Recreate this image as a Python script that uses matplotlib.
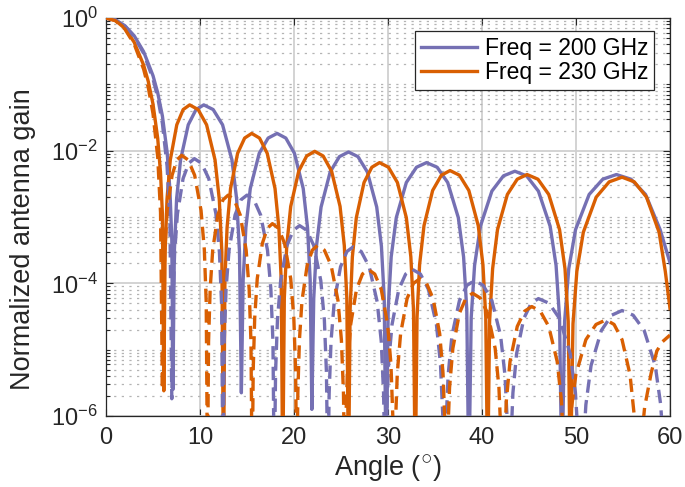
import numpy as np
import matplotlib
matplotlib.use("Agg")
import matplotlib.pyplot as plt
from matplotlib.ticker import LogLocator, NullFormatter, FixedLocator

plt.rcParams['font.family'] = ['Liberation Sans', 'DejaVu Sans']
plt.rcParams['mathtext.fontset'] = 'custom'
plt.rcParams['mathtext.rm'] = 'Liberation Sans'
plt.rcParams['mathtext.it'] = 'Liberation Sans:italic'
plt.rcParams['mathtext.default'] = 'regular'

# values: angle (deg) and log10 of normalized gain
# solid, 200 GHz
ang_200 = [0, 1, 2, 3, 4, 5, 5.5, 6, 6.5, 6.8, 7.0, 7.12,
           7.27, 7.51, 7.93, 8.75, 9.58, 10.4, 11.4, 12.4, 13.4, 13.9, 14.2, 14.4,
           14.59, 14.88, 15.35, 16.3, 17.25, 18.2, 19.13, 20.05, 20.98, 21.44, 21.72, 21.9,
           22.1, 22.39, 22.88, 23.85, 24.83, 25.8, 26.8, 27.8, 28.8, 29.3, 29.6, 29.8,
           30.02, 30.34, 30.88, 31.95, 33.03, 34.1, 35.23, 36.35, 37.48, 38.04, 38.38, 38.6,
           38.85, 39.21, 39.83, 41.05, 42.28, 43.5, 44.75, 46.0, 47.25, 47.88, 48.25, 48.5,
           48.79, 49.23, 49.95, 51.4, 52.85, 54.3, 55.85, 57.4, 58.95, 60.0]
lg_200 = [0, -0.028, -0.115, -0.268, -0.507, -0.869, -1.127, -1.477, -2.02, -2.59, -3.34, -5.6,
          -3.52, -2.73, -2.14, -1.61, -1.38, -1.31, -1.38, -1.61, -2.14, -2.73, -3.52, -5.65,
          -3.95, -3.16, -2.57, -2.04, -1.81, -1.74, -1.81, -2.04, -2.57, -3.16, -3.95, -5.9,
          -4.23, -3.44, -2.85, -2.32, -2.09, -2.02, -2.09, -2.32, -2.85, -3.44, -4.23, -7,
          -4.39, -3.60, -3.01, -2.48, -2.25, -2.18, -2.25, -2.48, -3.01, -3.60, -4.39, -7,
          -4.52, -3.73, -3.14, -2.61, -2.38, -2.31, -2.38, -2.61, -3.14, -3.73, -4.52, -7,
          -4.57, -3.78, -3.19, -2.66, -2.43, -2.36, -2.43, -2.66, -3.19, -3.69]

# solid, 230 GHz
ang_230 = [0, 1, 2, 3, 4, 4.5, 5, 5.5, 5.8, 6.0, 6.15,
           6.29, 6.49, 6.84, 7.53, 8.21, 8.9, 9.8, 10.7, 11.6, 12.05, 12.32, 12.5,
           12.65, 12.88, 13.25, 14.0, 14.75, 15.5, 16.33, 17.15, 17.98, 18.39, 18.64, 18.8,
           18.97, 19.23, 19.65, 20.5, 21.35, 22.2, 23.1, 24.0, 24.9, 25.35, 25.62, 25.8,
           25.97, 26.21, 26.63, 27.45, 28.28, 29.1, 30.05, 31.0, 31.95, 32.43, 32.71, 32.9,
           33.09, 33.36, 33.83, 34.75, 35.68, 36.6, 37.6, 38.6, 39.6, 40.1, 40.4, 40.6,
           40.81, 41.13, 41.65, 42.7, 43.75, 44.8, 45.95, 47.1, 48.25, 48.83, 49.17, 49.4,
           49.68, 50.09, 50.78, 52.15, 53.53, 54.9, 56.2, 57.5, 58.84, 59.5, 60.0]
lg_230 = [0, -0.038, -0.155, -0.366, -0.709, -0.958, -1.297, -1.813, -2.335, -2.95, -5.62,
          -3.52, -2.73, -2.14, -1.61, -1.38, -1.31, -1.38, -1.61, -2.14, -2.73, -3.52, -7,
          -3.95, -3.16, -2.57, -2.04, -1.81, -1.74, -1.81, -2.04, -2.57, -3.16, -3.95, -7,
          -4.22, -3.43, -2.84, -2.31, -2.08, -2.01, -2.08, -2.31, -2.84, -3.43, -4.22, -7,
          -4.39, -3.60, -3.01, -2.48, -2.25, -2.18, -2.25, -2.48, -3.01, -3.60, -4.39, -7,
          -4.51, -3.72, -3.13, -2.60, -2.37, -2.30, -2.37, -2.60, -3.13, -3.72, -4.51, -7,
          -4.57, -3.78, -3.19, -2.66, -2.43, -2.36, -2.43, -2.66, -3.19, -3.78, -4.57, -7,
          -4.61, -3.82, -3.23, -2.70, -2.47, -2.40, -2.47, -2.70, -3.23, -3.82, -4.38]

# dashed, 200 GHz
angd_200 = [0, 1, 2, 3, 4, 5, 5.5, 6, 6.5, 6.8, 7.0,
            7.12, 7.30, 7.60, 8.20, 8.80, 9.4, 10.16, 10.93, 11.69, 12.07, 12.30, 12.45,
            12.58, 12.77, 13.09, 13.73, 14.36, 15.0, 15.73, 16.45, 17.18, 17.54, 17.76, 17.9,
            18.04, 18.24, 18.58, 19.25, 19.93, 20.6, 21.35, 22.1, 22.85, 23.23, 23.45, 23.6,
            23.74, 23.94, 24.28, 24.95, 25.63, 26.3, 27.15, 28.0, 28.85, 29.28, 29.53, 29.7,
            29.85, 30.06, 30.43, 31.15, 31.88, 32.6, 33.45, 34.3, 35.15, 35.58, 35.83, 36.0,
            36.16, 36.4, 36.8, 37.6, 38.4, 39.2, 40.13, 41.05, 41.98, 42.44, 42.72, 42.9,
            43.06, 43.29, 43.68, 44.45, 45.23, 46.0, 47.13, 48.25, 49.38, 49.94, 50.28, 50.5,
            50.72, 51.05, 51.6, 52.7, 53.8, 54.9, 56.08, 57.25, 58.43, 59.01, 59.37, 59.6, 60.0]
lgd_200 = [0, -0.029, -0.120, -0.281, -0.532, -0.918, -1.197, -1.587, -2.235, -3.06, -5.74,
           -4.33, -3.54, -2.95, -2.42, -2.19, -2.12, -2.19, -2.42, -2.95, -3.54, -4.33, -7,
           -4.88, -4.09, -3.50, -2.97, -2.74, -2.67, -2.74, -2.97, -3.50, -4.09, -4.88, -7,
           -5.34, -4.55, -3.96, -3.43, -3.20, -3.13, -3.20, -3.43, -3.96, -4.55, -5.34, -7,
           -5.66, -4.87, -4.28, -3.75, -3.52, -3.45, -3.52, -3.75, -4.28, -4.87, -5.66, -7,
           -6.0, -5.21, -4.62, -4.09, -3.86, -3.79, -3.86, -4.09, -4.62, -5.21, -6.0, -7,
           -6.17, -5.38, -4.79, -4.26, -4.03, -3.96, -4.03, -4.26, -4.79, -5.38, -6.17, -7,
           -6.44, -5.65, -5.06, -4.53, -4.30, -4.23, -4.30, -4.53, -5.06, -5.65, -6.44, -7,
           -6.62, -5.83, -5.24, -4.71, -4.48, -4.41, -4.48, -4.71, -5.24, -5.83, -6.62, -7, -6.8]

# dashed, 230 GHz
angd_230 = [0, 1, 2, 3, 4, 4.5, 5, 5.5, 5.8, 6.0,
            6.10, 6.26, 6.51, 7.03, 7.54, 8.05, 8.74, 9.43, 10.11, 10.46, 10.66, 10.8,
            10.91, 11.08, 11.35, 11.9, 12.45, 13.0, 13.64, 14.28, 14.91, 15.23, 15.42, 15.55,
            15.66, 15.82, 16.09, 16.63, 17.16, 17.7, 18.35, 19.0, 19.65, 19.98, 20.17, 20.3,
            20.41, 20.58, 20.85, 21.4, 21.95, 22.5, 23.23, 23.95, 24.68, 25.04, 25.26, 25.4,
            25.53, 25.71, 26.03, 26.65, 27.28, 27.9, 28.59, 29.28, 29.96, 30.31, 30.51, 30.65,
            30.79, 30.99, 31.34, 32.03, 32.71, 33.4, 34.1, 34.8, 35.5, 35.85, 36.06, 36.2,
            36.34, 36.55, 36.9, 37.6, 38.3, 39.0, 39.8, 40.6, 41.4, 41.8, 42.04, 42.2,
            42.36, 42.59, 42.98, 43.75, 44.53, 45.3, 46.2, 47.1, 48.0, 48.45, 48.72, 48.9,
            49.12, 49.44, 49.98, 51.05, 52.13, 53.2, 54.05, 54.9, 55.75, 56.18, 56.43, 56.6,
            57.0, 57.3, 58.0, 58.6, 59.2, 60.0]
lgd_230 = [0, -0.040, -0.165, -0.394, -0.770, -1.049, -1.441, -2.094, -2.93, -5.6,
           -4.28, -3.49, -2.90, -2.37, -2.14, -2.07, -2.14, -2.37, -2.90, -3.49, -4.28, -7,
           -4.88, -4.09, -3.50, -2.97, -2.74, -2.67, -2.74, -2.97, -3.50, -4.09, -4.88, -7,
           -5.31, -4.52, -3.93, -3.40, -3.17, -3.10, -3.17, -3.40, -3.93, -4.52, -5.31, -7,
           -5.64, -4.85, -4.26, -3.73, -3.50, -3.43, -3.50, -3.73, -4.26, -4.85, -5.64, -7,
           -6.0, -5.21, -4.62, -4.09, -3.86, -3.79, -3.86, -4.09, -4.62, -5.21, -6.0, -7,
           -6.14, -5.35, -4.76, -4.23, -4.00, -3.93, -4.00, -4.23, -4.76, -5.35, -6.14, -7,
           -6.36, -5.57, -4.98, -4.45, -4.22, -4.15, -4.22, -4.45, -4.98, -5.57, -6.36, -7,
           -6.56, -5.77, -5.18, -4.65, -4.42, -4.35, -4.42, -4.65, -5.18, -5.77, -6.56, -7,
           -6.76, -5.97, -5.38, -4.85, -4.62, -4.55, -4.62, -4.85, -5.38, -5.97, -6.76, -7,
           -6.3, -5.87, -5.35, -5.02, -4.88, -4.78]

labels = ['Freq = 200 GHz', 'Freq = 230 GHz']
c_200 = '#7570b3'
c_230 = '#d95f02'
ink = '#262626'


def main():
    fig = plt.figure(figsize=(6.85, 4.87), dpi=100)
    ax = fig.add_axes([106 / 685, 71 / 487, 564 / 685, 398 / 487])

    lw = 2.4
    dash = (0, (4, 2.2))
    l1, = ax.plot(ang_200, np.power(10.0, lg_200), color=c_200, lw=lw, label=labels[0], zorder=3)
    l2, = ax.plot(ang_230, np.power(10.0, lg_230), color=c_230, lw=lw, label=labels[1], zorder=3)
    ax.plot(angd_200, np.power(10.0, lgd_200), color=c_200, lw=lw, ls=dash, zorder=3)
    ax.plot(angd_230, np.power(10.0, lgd_230), color=c_230, lw=lw, ls=dash, zorder=3)

    ax.set_yscale('log')
    ax.set_xlim(0, 60)
    ax.set_ylim(1e-6, 1)
    ax.set_xticks(np.arange(0, 61, 10))
    ax.yaxis.set_major_locator(FixedLocator([1e-6, 1e-4, 1e-2, 1]))
    ax.yaxis.set_minor_locator(LogLocator(base=10, subs=np.arange(1, 10), numticks=30))
    ax.yaxis.set_minor_formatter(NullFormatter())

    # grid: solid majors, dotted minors on y
    ax.grid(which='major', color='#d0d0d0', lw=1.3, zorder=0)
    ax.grid(which='minor', axis='y', color='#b4b4b4', lw=0.9, ls=(0, (1.8, 4.3)), zorder=0)
    ax.set_axisbelow(True)

    ax.tick_params(which='both', direction='in', top=True, right=True,
                   colors=ink, labelsize=17, width=0.8)
    ax.tick_params(which='major', length=5)
    ax.tick_params(axis='x', which='major', pad=8)
    ax.tick_params(axis='y', which='major', pad=6)
    ax.tick_params(which='minor', length=3)
    for s in ax.spines.values():
        s.set_color(ink)
        s.set_linewidth(0.9)

    ax.set_xlabel(r'Angle ($^{\bigcirc}$)', fontsize=19.5, color=ink, labelpad=2)
    ax.set_ylabel('Normalized antenna gain', fontsize=19.5, color=ink)
    ax.yaxis.set_label_coords(-0.125, 0.445)

    leg = ax.legend(handles=[l1, l2], loc='upper right',
                    bbox_to_anchor=((654 - 106) / 564, (416 - 31) / 398),
                    fontsize=16.5, handlelength=2.45, handletextpad=0.35,
                    borderpad=0.25, labelspacing=0.05, borderaxespad=0,
                    fancybox=False, framealpha=1, edgecolor=ink)
    leg.get_frame().set_linewidth(0.9)

    fig.savefig('out.png', dpi=100)


if __name__ == "__main__":
    main()
